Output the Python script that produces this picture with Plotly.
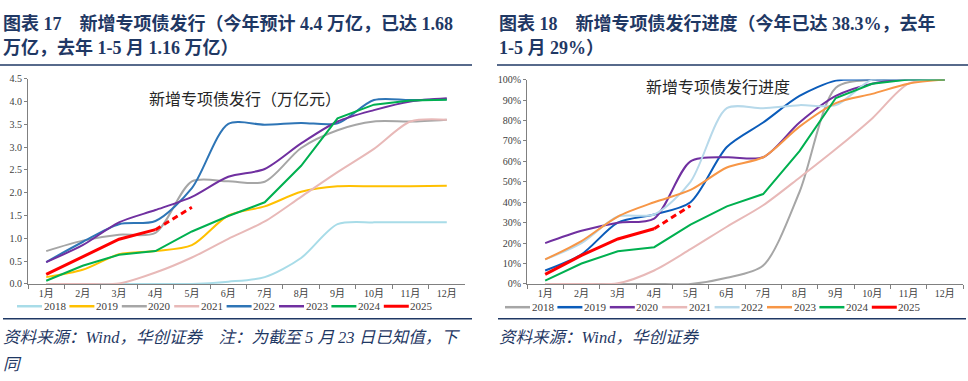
import plotly.graph_objects as go

months = ["1月", "2月", "3月", "4月", "5月", "6月", "7月", "8月", "9月", "10月", "11月", "12月"]
years = ["2018", "2019", "2020", "2021", "2022", "2023", "2024", "2025"]

# Left: cumulative new special bond issuance (万亿元)
amt_2018 = [0, 0, 0, 0, 0.0, 0.05, 0.15, 0.57, 1.31, 1.35, 1.35, 1.35]
amt_2019 = [0.15, 0.31, 0.65, 0.72, 0.85, 1.5, 1.7, 2.02, 2.14, 2.14, 2.14, 2.15]
amt_2020 = [0.72, 0.95, 1.08, 1.12, 2.25, 2.25, 2.24, 2.98, 3.37, 3.56, 3.56, 3.6]
amt_2021 = [0, 0, 0.01, 0.25, 0.58, 0.99, 1.37, 1.91, 2.45, 2.96, 3.56, 3.6]
amt_2022 = [0.48, 0.92, 1.31, 1.38, 2.1, 3.51, 3.49, 3.53, 3.52, 4.03, 4.03, 4.05]
amt_2023 = [0.48, 0.85, 1.35, 1.62, 1.91, 2.35, 2.52, 3.08, 3.56, 3.81, 4.0, 4.07]
amt_2024 = [0.07, 0.4, 0.64, 0.72, 1.15, 1.49, 1.79, 2.59, 3.63, 3.93, 4.02, 4.04]
amt_2025 = [0.21, 0.6, 0.98, 1.19, 1.68]

# Right: issuance progress (share of full-year quota)
pct_2018 = [0, 0, 0, 0, 0.0, 0.03, 0.09, 0.45, 0.96, 1.0, 1.0, 1.0]
pct_2019 = [0.066, 0.145, 0.30, 0.34, 0.40, 0.67, 0.79, 0.92, 0.995, 1.0, 1.0, 1.0]
pct_2020 = [0.20, 0.26, 0.30, 0.32, 0.60, 0.62, 0.62, 0.79, 0.92, 0.98, 1.0, 1.0]
pct_2021 = [0, 0, 0.003, 0.066, 0.17, 0.28, 0.385, 0.52, 0.66, 0.81, 0.98, 1.0]
pct_2022 = [0.12, 0.20, 0.33, 0.34, 0.50, 0.86, 0.86, 0.875, 0.875, 1.0, 1.0, 1.0]
pct_2023 = [0.12, 0.21, 0.33, 0.40, 0.46, 0.57, 0.62, 0.77, 0.885, 0.93, 0.98, 1.0]
pct_2024 = [0.016, 0.10, 0.16, 0.18, 0.29, 0.38, 0.44, 0.65, 0.91, 0.98, 1.0, 1.0]
pct_2025 = [0.047, 0.14, 0.22, 0.27, 0.383]

left_series = [amt_2018, amt_2019, amt_2020, amt_2021, amt_2022, amt_2023, amt_2024, amt_2025]
right_series = [pct_2018, pct_2019, pct_2020, pct_2021, pct_2022, pct_2023, pct_2024, pct_2025]
left_colors = ["#A8DCE8", "#FFC000", "#A6A6A6", "#E8B9B8", "#2E75B6", "#7030A0", "#00B050", "#FF0000"]
right_colors = ["#A6A6A6", "#0B5CBA", "#7030A0", "#E8B9B8", "#B7D9EA", "#F79646", "#00B050", "#FF0000"]

NAVY = "#1F3864"
SERIF = "Liberation Serif, Noto Sans CJK SC"
W, H = 968, 381

fig = go.Figure()


def add_panel(series, colors, xa, ya):
    for yr, vals, col in zip(years, series, colors):
        if yr == "2025":
            fig.add_trace(go.Scatter(
                x=months[:4], y=vals[:4], mode="lines", name=yr,
                line=dict(color=col, width=3), xaxis=xa, yaxis=ya))
            fig.add_trace(go.Scatter(
                x=months[3:5], y=vals[3:5], mode="lines", name=yr,
                line=dict(color=col, width=3, dash="6px,4px"), xaxis=xa, yaxis=ya))
        else:
            shape = "linear" if yr == "2024" else "spline"
            fig.add_trace(go.Scatter(
                x=months[:len(vals)], y=vals, mode="lines", name=yr,
                line=dict(color=col, width=2, shape=shape, smoothing=0.8),
                xaxis=xa, yaxis=ya))


add_panel(left_series, left_colors, "x", "y")
add_panel(right_series, right_colors, "x2", "y2")

xcommon = dict(type="category", categoryorder="array", categoryarray=months,
               range=[-0.5, 11.5],
               tickson="boundaries", ticks="outside", ticklen=4, tickcolor="#808080",
               showline=True, linecolor="#808080", linewidth=1, showgrid=False,
               zeroline=False, tickfont=dict(family=SERIF, size=10, color="#404040"))
ycommon = dict(showline=True, linecolor="#808080", linewidth=1, showgrid=False,
               zeroline=False, ticks="outside", ticklen=3, tickcolor="#808080",
               tickfont=dict(family=SERIF, size=10, color="#404040"))

fig.update_layout(
    width=W, height=H,
    margin=dict(l=0, r=0, t=0, b=0),
    paper_bgcolor="white", plot_bgcolor="white",
    showlegend=False,
    xaxis=dict(domain=[28 / W, 465 / W], anchor="y", **xcommon),
    yaxis=dict(domain=[94 / H, 306 / H], anchor="x", range=[0, 4.5], dtick=0.5,
               tickformat=".1f", **ycommon),
    xaxis2=dict(domain=[527 / W, 963 / W], anchor="y2", **xcommon),
    yaxis2=dict(domain=[94 / H, 305 / H], anchor="x2", range=[0, 1], dtick=0.1,
                tickformat=".0%", **ycommon),
)


def px_x(x):
    return x / W


def px_y(y):
    return (H - y) / H


# Rules
for x0, x1, y in [(0, 472, 61), (497, 968, 61), (3, 472, 323), (498, 966, 323)]:
    fig.add_shape(type="line", xref="paper", yref="paper",
                  x0=px_x(x0), x1=px_x(x1), y0=px_y(y), y1=px_y(y),
                  line=dict(color=NAVY, width=1.5))


def ann(text, x, y, size, color, bold=False, italic=False, xanchor="left", family=SERIF):
    if bold:
        text = "<b>" + text + "</b>"
    if italic:
        text = "<i>" + text + "</i>"
    fig.add_annotation(text=text, xref="paper", yref="paper", x=px_x(x), y=px_y(y),
                       xanchor=xanchor, yanchor="middle", showarrow=False, borderpad=0,
                       font=dict(family=family, size=size, color=color))


# Legends (one row under each panel)
def legend_row(colors, x_start, y, step=52.4):
    for i, (yr, col) in enumerate(zip(years, colors)):
        x0 = x_start + i * step
        fig.add_shape(type="line", xref="paper", yref="paper",
                      x0=px_x(x0), x1=px_x(x0 + 25), y0=px_y(y), y1=px_y(y),
                      line=dict(color=col, width=3 if yr == "2025" else 2.5))
        ann(yr, x0 + 25.5, y, 11, "#404040")


legend_row(left_colors, 17, 310)
legend_row(right_colors, 505, 311)

ann("图表 17　新增专项债发行（今年预计 4.4 万亿，已达 1.68", 2, 18, 18, NAVY, bold=True)
ann("万亿，去年 1-5 月 1.16 万亿）", 2, 43, 18, NAVY, bold=True)
ann("图表 18　新增专项债发行进度（今年已达 38.3%，去年", 498, 18, 18, NAVY, bold=True)
ann("1-5 月 29%）", 498, 43, 18, NAVY, bold=True)

ann("新增专项债发行（万亿元）", 148, 97, 16, "#262626")
ann("新增专项债发行进度", 645, 84, 16, "#262626")

ann("资料来源：Wind，华创证券　注：为截至 5 月 23 日已知值，下", 2, 342, 16.5, NAVY, italic=True)
ann("同", 2, 370, 16.5, NAVY, italic=True)
ann("资料来源：Wind，华创证券", 498, 342, 16.5, NAVY, italic=True)

fig.write_html("out.html", config={"displayModeBar": False},
               post_script="document.body.style.margin='0';document.body.style.overflow='hidden';")
